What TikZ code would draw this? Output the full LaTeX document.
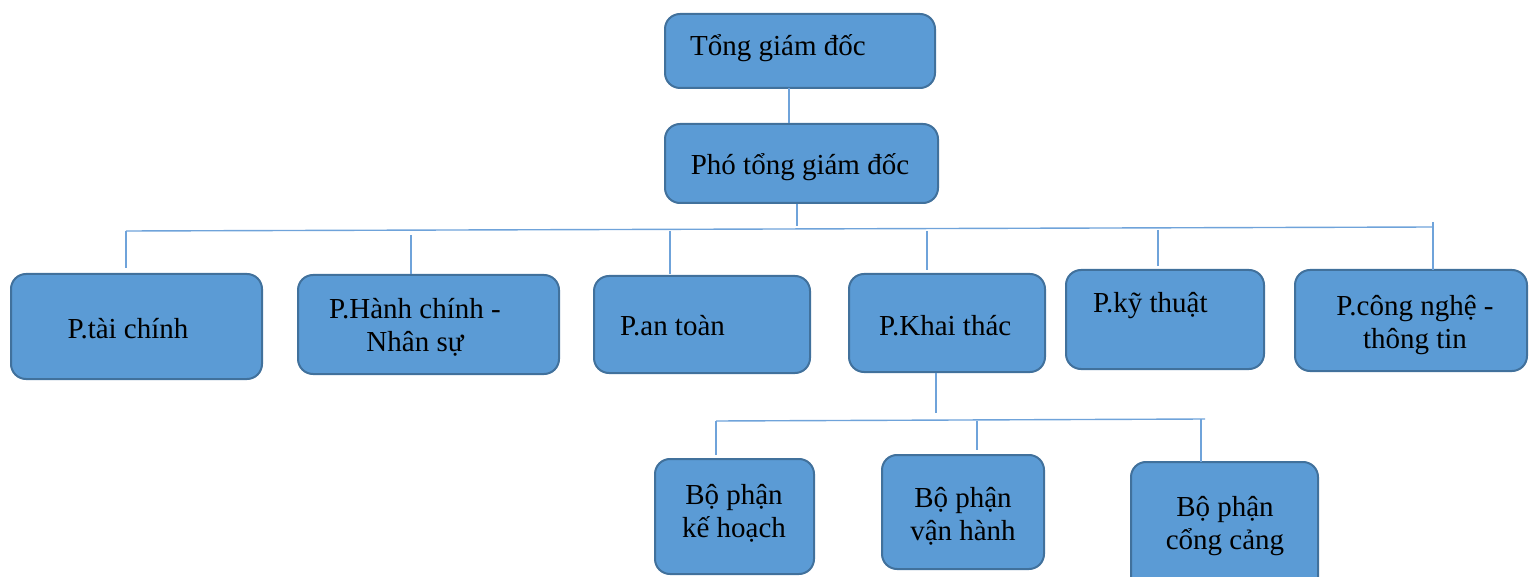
\documentclass[tikz,border=0pt]{standalone}
\usepackage{fontspec}
\setmainfont{Liberation Serif}
\definecolor{boxfill}{HTML}{5B9BD5}
\definecolor{boxedge}{HTML}{41719C}
\definecolor{linkcol}{HTML}{6FA3DA}
\begin{document}
\begin{tikzpicture}[x=1pt,y=-1pt,
  orgbox/.style={draw=boxedge,fill=boxfill,line width=2pt,rounded corners=15pt,inner sep=0pt},
  lbl/.style={font=\fontsize{29}{33}\selectfont,inner sep=0pt,align=center},
  link/.style={draw=linkcol,line width=1.4pt}]
\useasboundingbox (0,0) rectangle (1529,577);
\clip (0,0) rectangle (1529,577);
% boxes
\node[orgbox,minimum width=270pt,minimum height=74pt] (tgd) at (800,51) {};
\node[orgbox,minimum width=273pt,minimum height=79pt] (ptgd) at (801.5,163.5) {};
\node[orgbox,minimum width=251pt,minimum height=105pt] (ftc) at (136.5,326.5) {};
\node[orgbox,minimum width=261pt,minimum height=99pt] (fhc) at (428.5,324.5) {};
\node[orgbox,minimum width=216pt,minimum height=97pt] (fat) at (702,324.5) {};
\node[orgbox,minimum width=196pt,minimum height=98pt] (fkt) at (947,323) {};
\node[orgbox,minimum width=198pt,minimum height=99pt] (fky) at (1165,319.5) {};
\node[orgbox,minimum width=232pt,minimum height=101pt] (fcn) at (1411,320.5) {};
\node[orgbox,minimum width=159pt,minimum height=115pt] (bkh) at (734.5,516.5) {};
\node[orgbox,minimum width=162pt,minimum height=114pt] (bvh) at (963,512) {};
\node[orgbox,minimum width=187pt,minimum height=130pt] (bcc) at (1224.5,527) {};
% texts
\node[lbl,anchor=base west] (ttgd) at (690,56) {Tổng giám đốc};
\node[lbl,anchor=base] (tptgd) at (800,175) {Phó tổng giám đốc};
\node[lbl,anchor=base] (tftc) at (128,338) {P.tài chính};
\node[lbl] (tfhc) at (415,327) {P.Hành chính -\\Nhân sự};
\node[lbl,anchor=base west] (tfat) at (620,336) {P.an toàn};
\node[lbl,anchor=base west] (tfkt) at (879,336) {P.Khai thác};
\node[lbl,anchor=base west] (tfky) at (1093,313) {P.kỹ thuật};
\node[lbl] (tfcn) at (1415,325) {P.công nghệ -\\thông tin};
\node[lbl] (tbkh) at (734,513) {Bộ phận\\kế hoạch};
\node[lbl] (tbvh) at (963,516) {Bộ phận\\vận hành};
\node[lbl] (tbcc) at (1225,526) {Bộ phận\\cổng cảng};
% connectors
\coordinate (c1) at (789,88);
\draw[link] (c1) -- (c1 |- ptgd.north);
\coordinate (c2) at (797,226);
\draw[link] (c2 |- ptgd.south) -- (c2);
\coordinate (busL) at (126,231);
\coordinate (busR) at (1433,227);
\draw[link] (busL) -- (busR);
\coordinate (d1) at (126,268);
\draw[link] (busL) -- (d1);
\coordinate (d2a) at (411,235); \coordinate (d2b) at (411,274);
\draw[link] (d2a) -- (d2b);
\coordinate (d3a) at (670,231); \coordinate (d3b) at (670,274);
\draw[link] (d3a) -- (d3b);
\coordinate (d4a) at (927,231); \coordinate (d4b) at (927,270);
\draw[link] (d4a) -- (d4b);
\coordinate (d5a) at (1158,230); \coordinate (d5b) at (1158,266);
\draw[link] (d5a) -- (d5b);
\coordinate (d6a) at (1433,222); \coordinate (d6b) at (1433,270);
\draw[link] (d6a) -- (d6b);
\coordinate (k1) at (936,413);
\draw[link] (k1 |- fkt.south) -- (k1);
\coordinate (sbL) at (716,421);
\coordinate (sbR) at (1205,419);
\draw[link] (sbL) -- (sbR);
\coordinate (s1) at (716,455);
\draw[link] (sbL) -- (s1);
\coordinate (s2a) at (977,421); \coordinate (s2b) at (977,450);
\draw[link] (s2a) -- (s2b);
\coordinate (s3a) at (1201,419); \coordinate (s3b) at (1201,462);
\draw[link] (s3a) -- (s3b);
\end{tikzpicture}
\end{document}
